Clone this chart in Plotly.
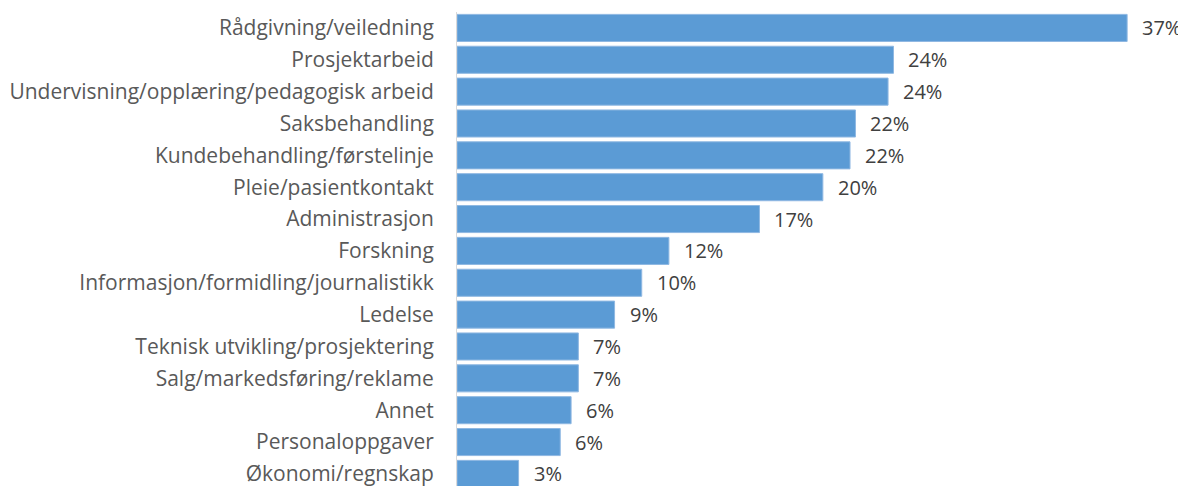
import plotly.graph_objects as go

categories = [
    "Rådgivning/veiledning",
    "Prosjektarbeid",
    "Undervisning/opplæring/pedagogisk arbeid",
    "Saksbehandling",
    "Kundebehandling/førstelinje",
    "Pleie/pasientkontakt",
    "Administrasjon",
    "Forskning",
    "Informasjon/formidling/journalistikk",
    "Ledelse",
    "Teknisk utvikling/prosjektering",
    "Salg/markedsføring/reklame",
    "Annet",
    "Personaloppgaver",
    "Økonomi/regnskap",
]
values = [37.0, 24.1, 23.8, 22.0, 21.7, 20.2, 16.7, 11.7, 10.2, 8.7, 6.7, 6.7, 6.3, 5.7, 3.4]
labels = ["37%", "24%", "24%", "22%", "22%", "20%", "17%", "12%", "10%", "9%", "7%", "7%", "6%", "6%", "3%"]

fig = go.Figure(go.Bar(
    x=values,
    y=categories,
    orientation="h",
    width=0.85,
    marker=dict(color="#5B9BD5", line=dict(color="#8FB8E2", width=1)),
    hoverinfo="skip",
))

for c, v, t in zip(categories, values, labels):
    fig.add_annotation(x=v, y=c, text=t, showarrow=False, xanchor="left",
                       xshift=13, font=dict(family="Open Sans", size=20, color="#404040"))

# page body has an 8px margin, so the figure is a bit smaller than the window
fig.update_layout(
    width=1178, height=478,
    margin=dict(l=449, r=2, t=4, b=0),
    plot_bgcolor="white", paper_bgcolor="white",
    showlegend=False,
    font=dict(family="Open Sans", size=21, color="#595959"),
    xaxis=dict(range=[0, 40.14], visible=False, fixedrange=True),
    yaxis=dict(
        type="category",
        range=[14.38, -0.5],
        showline=True, linecolor="#D9D9D9", linewidth=1,
        showgrid=False, ticks="", ticklabelstandoff=18,
        fixedrange=True,
    ),
)

fig.write_html("out.html")
